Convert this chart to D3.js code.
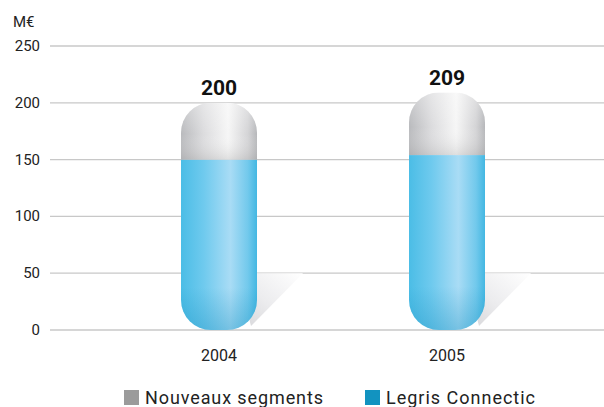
<!DOCTYPE html>
<html>
<head>
<meta charset="utf-8">
<script src="https://cdn.jsdelivr.net/npm/d3@7"></script>
<style>
  body { margin: 0; background: #fff; }
  text { font-family: Roboto, "DejaVu Sans", sans-serif; }
</style>
</head>
<body>
<script>
// chart data
var years = ["2004", "2005"];
var legris = [150, 154];
var nouveaux = [50, 55];
var totals = [200, 209];
var ticks = [0, 50, 100, 150, 200, 250];

var width = 604, height = 407;

var svg = d3.select("body").append("svg")
    .attr("width", width)
    .attr("height", height);

var y = d3.scaleLinear().domain([0, 250]).range([330, 46]);
var x = d3.scaleBand().domain(years).range([105, 561]);
var barW = 76;

var defs = svg.append("defs");

// grey cap gradient
var gg = defs.append("linearGradient").attr("id", "greyGrad");
gg.append("stop").attr("offset", "0%").attr("stop-color", "#b9babd");
gg.append("stop").attr("offset", "30%").attr("stop-color", "#dcdcde");
gg.append("stop").attr("offset", "62%").attr("stop-color", "#f6f6f6");
gg.append("stop").attr("offset", "88%").attr("stop-color", "#d4d4d6");
gg.append("stop").attr("offset", "100%").attr("stop-color", "#b6b7ba");

var gv = defs.append("linearGradient").attr("id", "greyV")
    .attr("x1", 0).attr("y1", 0).attr("x2", 0).attr("y2", 1);
gv.append("stop").attr("offset", "0%").attr("stop-color", "#fff").attr("stop-opacity", 0.3);
gv.append("stop").attr("offset", "55%").attr("stop-color", "#fff").attr("stop-opacity", 0);
gv.append("stop").attr("offset", "100%").attr("stop-color", "#999").attr("stop-opacity", 0.25);

var bg = defs.append("linearGradient").attr("id", "blueGrad");
bg.append("stop").attr("offset", "0%").attr("stop-color", "#4bbde6");
bg.append("stop").attr("offset", "30%").attr("stop-color", "#6fcaee");
bg.append("stop").attr("offset", "65%").attr("stop-color", "#a9dcf5");
bg.append("stop").attr("offset", "88%").attr("stop-color", "#72c9ec");
bg.append("stop").attr("offset", "100%").attr("stop-color", "#43b7e2");

var bv = defs.append("linearGradient").attr("id", "blueV")
    .attr("x1", 0).attr("y1", 0).attr("x2", 0).attr("y2", 1);
bv.append("stop").attr("offset", "0%").attr("stop-color", "#1a90c0").attr("stop-opacity", 0);
bv.append("stop").attr("offset", "75%").attr("stop-color", "#1a90c0").attr("stop-opacity", 0);
bv.append("stop").attr("offset", "100%").attr("stop-color", "#1a90c0").attr("stop-opacity", 0.35);

var sg = defs.append("linearGradient").attr("id", "shadowGrad")
    .attr("x1", 0).attr("y1", 1).attr("x2", 1).attr("y2", 0);
sg.append("stop").attr("offset", "0%").attr("stop-color", "#d6d6d9");
sg.append("stop").attr("offset", "45%").attr("stop-color", "#ececee");
sg.append("stop").attr("offset", "100%").attr("stop-color", "#ffffff");

// gridlines
svg.append("g").selectAll("line")
    .data(ticks)
    .enter().append("line")
    .attr("x1", 50).attr("x2", width)
    .attr("y1", function (d) { return y(d); })
    .attr("y2", function (d) { return y(d); })
    .attr("stroke", "#c8c8c8")
    .attr("stroke-width", 1.3);

svg.append("g").selectAll("text")
    .data(ticks)
    .enter().append("text")
    .attr("x", 40)
    .attr("y", function (d) { return y(d) + 5; })
    .attr("text-anchor", "end")
    .attr("font-size", "15px")
    .attr("fill", "#222")
    .text(function (d) { return d; });

svg.append("text")
    .attr("x", 13).attr("y", 27)
    .attr("font-size", "15px")
    .attr("fill", "#222")
    .text("M€");

// bars
years.forEach(function (yr, i) {
    var cx = x(yr) + x.bandwidth() / 2;
    var x0 = cx - barW / 2;
    var top = y(totals[i]);
    var bottom = y(0);

    // shadow
    svg.append("path")
        .attr("d", "M" + (x0 + barW - 20) + "," + y(50) +
            " L" + (x0 + barW + 46) + "," + y(50) +
            " L" + (x0 + barW - 6) + "," + (bottom - 4) + " Z")
        .attr("fill", "url(#shadowGrad)");

    defs.append("clipPath").attr("id", "clip" + i)
        .append("rect")
        .attr("x", x0).attr("y", top)
        .attr("width", barW).attr("height", bottom - top)
        .attr("rx", 30).attr("ry", 30);

    var g = svg.append("g").attr("clip-path", "url(#clip" + i + ")");
    g.append("rect")
        .attr("x", x0).attr("y", y(legris[i]))
        .attr("width", barW).attr("height", bottom - y(legris[i]))
        .attr("fill", "url(#blueGrad)");
    g.append("rect")
        .attr("x", x0).attr("y", y(legris[i]))
        .attr("width", barW).attr("height", bottom - y(legris[i]))
        .attr("fill", "url(#blueV)");
    g.append("rect")
        .attr("x", x0).attr("y", top)
        .attr("width", barW).attr("height", y(legris[i]) - top)
        .attr("fill", "url(#greyGrad)");
    g.append("rect")
        .attr("x", x0).attr("y", top)
        .attr("width", barW).attr("height", y(legris[i]) - top)
        .attr("fill", "url(#greyV)");

    svg.append("text")
        .attr("x", cx).attr("y", top - 8)
        .attr("text-anchor", "middle")
        .attr("font-size", "21px")
        .attr("font-weight", "bold")
        .attr("fill", "#111")
        .text(totals[i]);

    svg.append("text")
        .attr("x", cx).attr("y", 361)
        .attr("text-anchor", "middle")
        .attr("font-size", "16px")
        .attr("fill", "#222")
        .text(yr);
});

// legend
var legend = [
    { label: "Nouveaux segments", color: "#9b9b9b", x: 124, len: 178 },
    { label: "Legris Connectic", color: "#1293c0", x: 365, len: 149 }
];
legend.forEach(function (l) {
    svg.append("rect")
        .attr("x", l.x).attr("y", 390)
        .attr("width", 15).attr("height", 15)
        .attr("fill", l.color);
    svg.append("text")
        .attr("x", l.x + 21).attr("y", 404)
        .attr("font-size", "18px")
        .attr("textLength", l.len)
        .attr("lengthAdjust", "spacing")
        .attr("fill", "#222")
        .text(l.label);
});
</script>
</body>
</html>
